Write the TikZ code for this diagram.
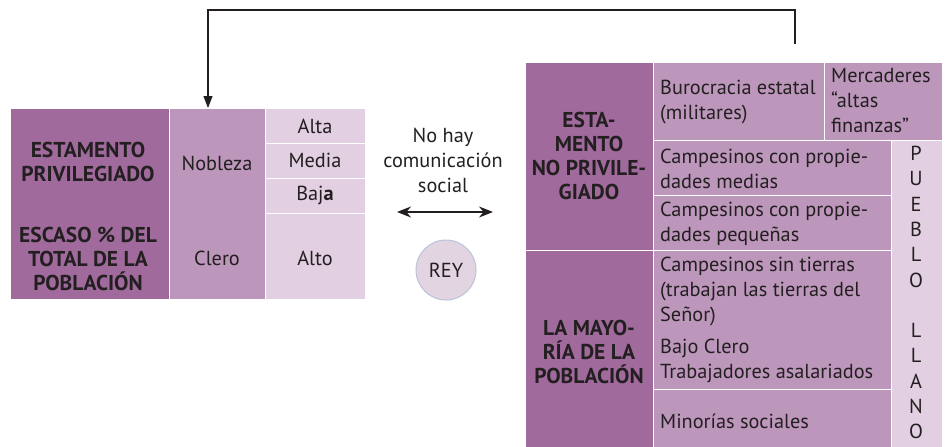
\documentclass[tikz,border=0pt]{standalone}
\usepackage{fontspec}
\setmainfont{PT Sans}
\usetikzlibrary{arrows.meta}
\definecolor{cdark}{RGB}{160,106,157}
\definecolor{cmed}{RGB}{188,150,187}
\definecolor{clight}{RGB}{226,207,225}
\definecolor{ctext}{RGB}{35,31,32}
\definecolor{crey}{RGB}{227,212,226}
\definecolor{creyb}{RGB}{184,196,216}
\tikzset{
  cellbox/.style={draw=white, line width=1.4pt, inner sep=0pt, anchor=north west},
  txt/.style={text=ctext, font=\fontsize{20.3}{25}\selectfont, inner sep=0pt},
  hdr/.style={text=ctext, font=\fontsize{21.5}{24}\selectfont\bfseries, inner sep=0pt, align=center},
  conn/.style={draw=ctext, line width=1.2pt},
}
\newcommand{\mkcell}[6]{\node[cellbox, fill=#2, minimum width=#5-#3, minimum height=#6-#4] (#1) at (#3,#4) {};}
\begin{document}
\begin{tikzpicture}[x=1pt,y=-1pt]
\useasboundingbox (0,0) rectangle (948,447);
\begin{scope}
\clip (0,0) rectangle (948,447);
% left table
\mkcell{L1}{cdark}{10}{108}{169}{299}
\mkcell{L2}{cmed}{169}{108}{265}{299}
\mkcell{La}{clight}{265}{108}{365}{143}
\mkcell{Lm}{clight}{265}{143}{365}{178}
\mkcell{Lb}{clight}{265}{178}{365}{213}
\mkcell{Lc}{clight}{265}{213}{365}{299}
% right table
\mkcell{R1}{cdark}{525}{62}{653}{250}
\mkcell{R2}{cdark}{525}{250}{653}{460}
\mkcell{Rbur}{cmed}{653}{62}{824}{140}
\mkcell{Rmer}{cmed}{824}{62}{942}{140}
\mkcell{Rmed}{cmed}{653}{140}{891}{195}
\mkcell{Rpeq}{cmed}{653}{195}{891}{250}
\mkcell{Rsin}{cmed}{653}{250}{891}{389}
\mkcell{Rmin}{cmed}{653}{389}{891}{460}
\mkcell{Rpue}{clight}{891}{140}{942}{460}
\end{scope}
% left texts
\node[hdr] (t1) at (88,162) {ESTAMENTO\\PRIVILEGIADO};
\node[hdr] (t2) at (88,259) {ESCASO \% DEL\\TOTAL DE LA\\POBLACIÓN};
\node[txt] (tn) at (217,163) {Nobleza};
\node[txt] (tc) at (217,258) {Clero};
\node[txt] (ta) at (315,126) {Alta};
\node[txt] (tm) at (315,160) {Media};
\node[txt] (tb) at (315,195) {Baj\textbf{a}};
\node[txt] (tl) at (315,258) {Alto};
% middle
\node[txt, align=center] (nh) at (443,160) {No hay\\comunicación\\social};
\coordinate (da) at (397,212);
\coordinate (db) at (493,212);
\draw[draw=ctext, line width=1.5pt, {Stealth[length=14pt,width=11pt]}-{Stealth[length=14pt,width=11pt]}] (da) -- (db);
\node[circle, fill=crey, draw=creyb, line width=1pt, minimum size=60pt, inner sep=0pt, txt] (rey) at (446,270) {REY};
% right texts
\node[hdr] (h1) at (589,156) {ESTA-\\MENTO\\NO PRIVILE-\\GIADO};
\node[hdr] (h2) at (589,352) {LA MAYO-\\RÍA DE LA\\POBLACIÓN};
\node[txt, align=left, anchor=west] (bur) at (660,102) {Burocracia estatal\\(militares)};
\node[txt, align=left, anchor=west] (mer) at (831,101) {Mercaderes\\“altas\\finanzas”};
\node[txt, align=left, anchor=west] (cmd) at (660,169) {Campesinos con propie-\\dades medias};
\node[txt, align=left, anchor=west] (cpq) at (660,224) {Campesinos con propie-\\dades pequeñas};
\node[txt, align=left, anchor=west] (cst) at (660,320) {Campesinos sin tierras\\(trabajan las tierras del\\Señor)\\[7pt]Bajo Clero\\Trabajadores asalariados};
\node[txt, align=left, anchor=west] (min) at (660,421) {Minorías sociales};
\node[txt, align=center, anchor=north, font=\fontsize{20.3}{25.3}\selectfont] (pue) at (916,146) {P\\U\\E\\B\\L\\O\\[25.3pt]L\\L\\A\\N\\O};
% top connector
\coordinate (c0) at (795,44);
\coordinate (c1) at (795,10);
\coordinate (c2) at (208,10);
\draw[conn, -{Triangle[length=12pt,width=9pt]}] (c0) -- (c1) -- (c2) -- (L2.north -| c2);
\end{tikzpicture}
\end{document}
